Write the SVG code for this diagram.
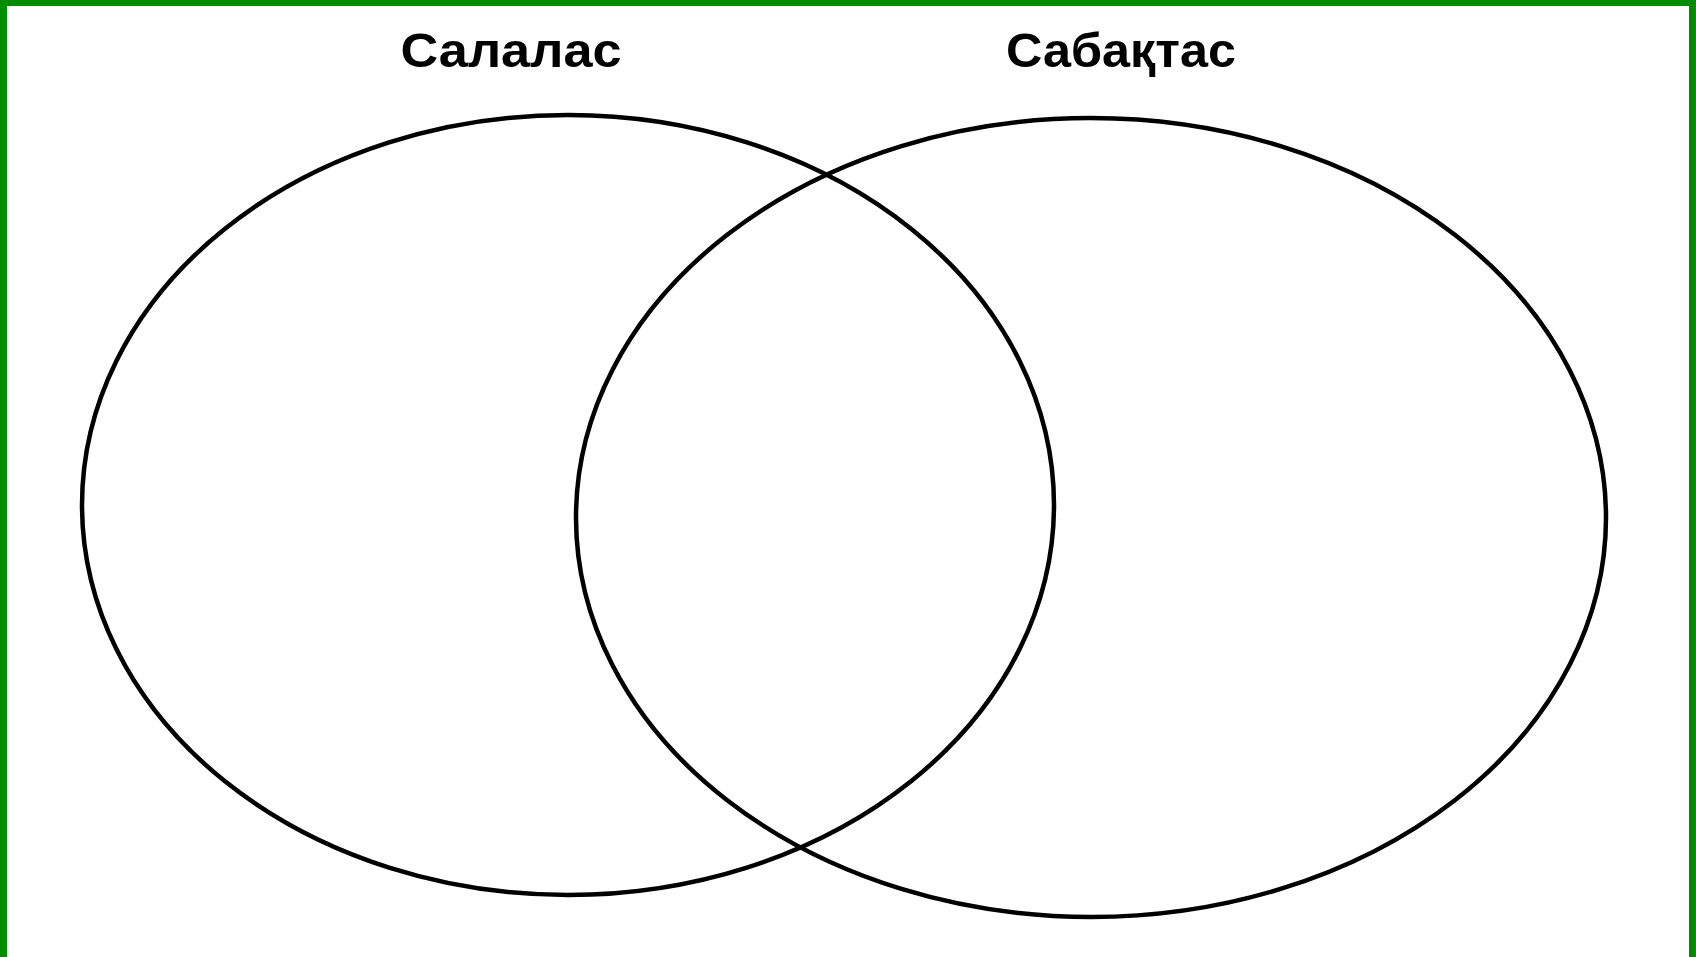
<svg xmlns="http://www.w3.org/2000/svg" width="1696" height="957" viewBox="0 0 1696 957">
<style>
.set{fill:none;stroke:#000;stroke-width:4.5}
.lbl{font-family:"Liberation Sans",Arial,sans-serif;font-weight:bold;font-size:49px;fill:#000;text-anchor:middle}
</style>
<rect x="0" y="0" width="1696" height="957" fill="#fff"/>
<g id="frame" fill="#008C00">
<rect x="0" y="0" width="1696" height="6"/>
<rect x="0" y="0" width="7" height="957"/>
<rect x="1689" y="0" width="7" height="957"/>
</g>
<g id="salalas">
<ellipse class="set" cx="568" cy="505" rx="486" ry="390"/>
<text class="lbl" x="511" y="67" textLength="221" lengthAdjust="spacingAndGlyphs">Салалас</text>
</g>
<g id="sabaktas">
<ellipse class="set" cx="1091" cy="517.5" rx="515" ry="399.5"/>
<text class="lbl" x="1121" y="67" textLength="230" lengthAdjust="spacingAndGlyphs">Сабақтас</text>
</g>
<g id="connectors"/>
</svg>
